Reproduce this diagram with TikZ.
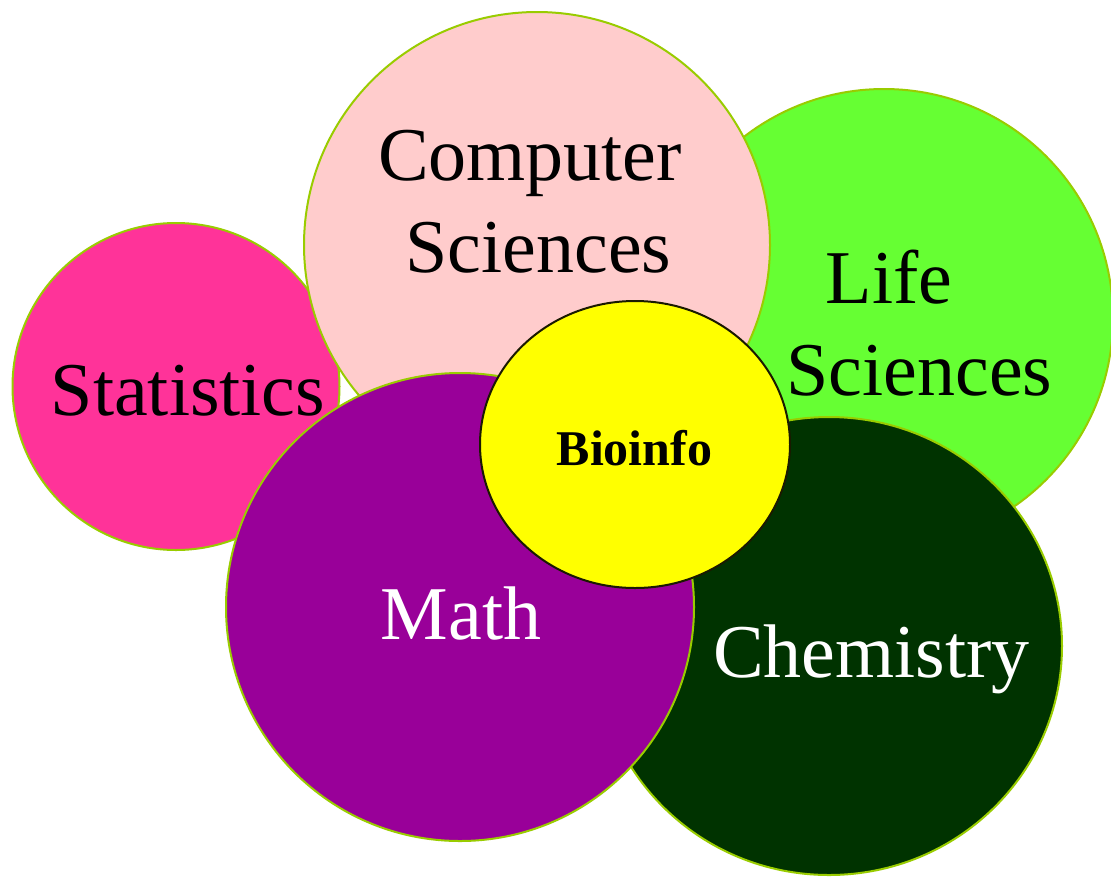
\documentclass[tikz,border=0pt]{standalone}
\usepackage{fontspec}
\setmainfont{Liberation Serif}
\definecolor{statpink}{HTML}{FF3399}
\definecolor{cspink}{HTML}{FFCCCC}
\definecolor{lifegreen}{HTML}{66FF33}
\definecolor{mathpurple}{HTML}{990099}
\definecolor{chemgreen}{HTML}{003300}
\definecolor{bioyellow}{HTML}{FFFF00}
\definecolor{rimgreen}{HTML}{99CC00}
\definecolor{biorim}{HTML}{1A1A00}
\begin{document}
\begin{tikzpicture}[x=1pt,y=-1pt,
  blob/.style={draw=rimgreen, line width=2pt},
  lbl/.style={anchor=base, inner sep=0pt, font=\fontsize{76}{92}\selectfont},
]
\useasboundingbox (0,0) rectangle (1111,876);
\fill[white] (0,0) rectangle (1111,876);
% circles, back to front
\path[blob, fill=statpink]   (176,386.5) circle[radius=163.5pt];
\path[blob, fill=lifegreen]  (884,318)   circle[radius=229pt];
\path[blob, fill=cspink]     (537,245)   circle[radius=233pt];
\path[blob, fill=chemgreen]  (829,646)   ellipse[x radius=233pt, y radius=229pt];
\path[blob, fill=mathpurple] (460,607)   circle[radius=234pt];
\path[draw=biorim, line width=2pt, fill=bioyellow] (635,444.5) ellipse[x radius=155pt, y radius=143.5pt];
% labels (base anchor = baseline of last line)
\node[lbl] (statlbl) at (188,415) {Statistics};
\node[lbl, align=center] (cslbl) at (538.5,272) {Computer\hspace*{17pt}\\Sciences};
\node[lbl, align=center] (lslbl) at (919.5,395) {Life\hspace*{61pt}\\Sciences};
\node[lbl, text=white] (mathlbl) at (461,639) {Math};
\node[lbl, text=white] (chemlbl) at (871.5,677) {Chemistry};
\node[lbl, font=\fontsize{50}{60}\selectfont\bfseries] (biolbl) at (634.5,465) {Bioinfo};
\end{tikzpicture}
\end{document}
